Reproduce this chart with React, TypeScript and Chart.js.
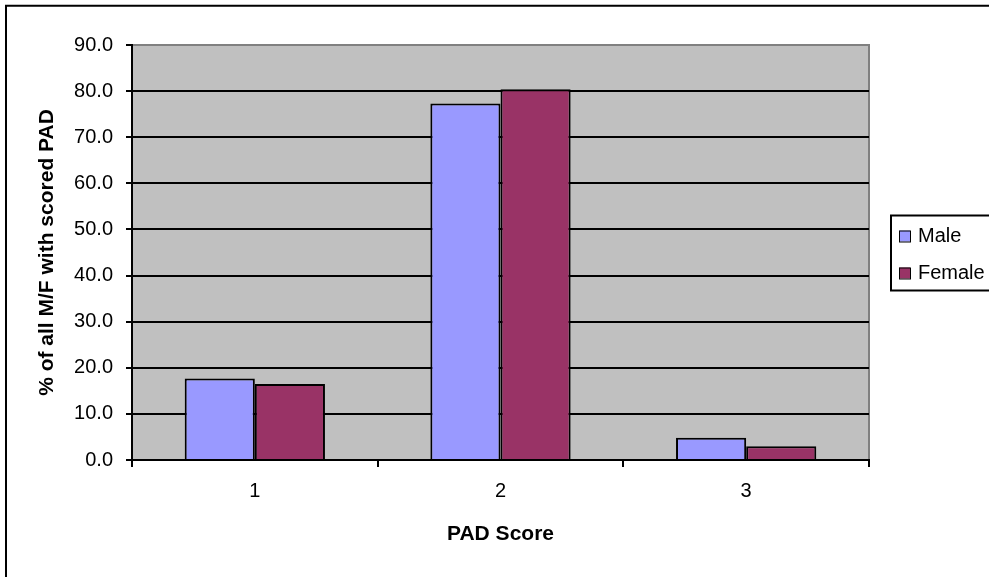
import React, { useEffect, useRef } from "react";
import { Chart, registerables } from "chart.js";

Chart.register(...registerables);

const categories = ["1", "2", "3"];
const seriesNames = ["Male", "Female"];
const maleValues = [17.7, 77.3, 4.8];
const femaleValues = [16.5, 80.4, 3.0];
const seriesColors = ["#9999FF", "#993366"];
const yTitle = "% of all M/F with scored PAD";
const xTitle = "PAD Score";

const FONT = "'Liberation Sans', Arial, sans-serif";

const framePlugin = {
  id: "frame",
  beforeDraw(chart: any) {
    const { ctx, chartArea } = chart;
    ctx.save();
    ctx.fillStyle = "#ffffff";
    ctx.fillRect(0, 0, chart.width, chart.height);
    // outer frame (left and top visible)
    ctx.strokeStyle = "#000";
    ctx.lineWidth = 2;
    ctx.beginPath();
    ctx.moveTo(6, chart.height + 2);
    ctx.lineTo(6, 5.7);
    ctx.lineTo(chart.width + 2, 5.7);
    ctx.stroke();
    // plot area
    ctx.fillStyle = "#C0C0C0";
    ctx.fillRect(chartArea.left, chartArea.top, chartArea.right - chartArea.left, chartArea.bottom - chartArea.top);
    ctx.strokeStyle = "#808080";
    ctx.lineWidth = 2;
    ctx.beginPath();
    ctx.moveTo(chartArea.left, chartArea.top);
    ctx.lineTo(chartArea.right, chartArea.top);
    ctx.lineTo(chartArea.right, chartArea.bottom);
    ctx.stroke();
    ctx.restore();
  },
  afterDraw(chart: any) {
    const { ctx } = chart;
    ctx.save();
    ctx.strokeStyle = "#000";
    ctx.lineWidth = 2;
    ctx.strokeRect(891, 215.5, 120, 75);
    ctx.font = `20px ${FONT}`;
    ctx.textBaseline = "middle";
    ctx.textAlign = "left";
    chart.data.datasets.forEach((ds: any, i: number) => {
      const y = 230.5 + i * 37;
      ctx.fillStyle = ds.backgroundColor;
      ctx.fillRect(899, y, 11, 11);
      ctx.lineWidth = 1;
      ctx.strokeStyle = "#000";
      ctx.strokeRect(899.5, y + 0.5, 11, 11);
      ctx.fillStyle = "#000";
      ctx.fillText(ds.label, 918, y + 6);
    });
    ctx.restore();
  },
};

export default function App() {
  const ref = useRef<HTMLCanvasElement | null>(null);
  useEffect(() => {
    if (!ref.current) return;
    const chart = new Chart(ref.current, {
      type: "bar",
      data: {
        labels: categories,
        datasets: [
          {
            label: seriesNames[0],
            data: maleValues,
            backgroundColor: seriesColors[0],
            borderColor: "#000",
            borderWidth: 2,
          },
          {
            label: seriesNames[1],
            data: femaleValues,
            backgroundColor: seriesColors[1],
            borderColor: "#000",
            borderWidth: 2,
          },
        ],
      },
      options: {
        animation: false,
        responsive: true,
        maintainAspectRatio: false,
        layout: { padding: { top: 45, right: 120, left: 0, bottom: 0 } },
        plugins: {
          legend: { display: false },
          tooltip: { enabled: false },
        },
        datasets: {
          bar: { categoryPercentage: 0.571, barPercentage: 1 },
        },
        scales: {
          x: {
            afterFit: (s: any) => {
              s.height = 117;
            },
            grid: {
              display: true,
              drawOnChartArea: false,
              drawTicks: true,
              tickLength: 7,
              color: "#000",
              lineWidth: 2,
              offset: true,
            },
            border: { display: true, color: "#000", width: 2 },
            ticks: {
              color: "#000",
              font: { family: FONT, size: 20 },
              padding: 12,
            },
            title: {
              display: true,
              text: xTitle,
              color: "#000",
              font: { family: FONT, size: 21, weight: "bold" },
              padding: { top: 0, bottom: 30 },
            },
          },
          y: {
            min: 0,
            max: 90,
            afterFit: (s: any) => {
              s.width = 132;
            },
            grid: {
              color: (c: any) => (c.tick && c.tick.value === 90 ? "#808080" : "#000"),
              tickColor: "#000",
              lineWidth: 2,
              tickLength: 6,
            },
            border: { display: true, color: "#000", width: 2 },
            ticks: {
              stepSize: 10,
              color: "#000",
              font: { family: FONT, size: 20 },
              padding: 13,
              callback: (v: any) => Number(v).toFixed(1),
            },
            title: {
              display: true,
              text: yTitle,
              color: "#000",
              font: { family: FONT, size: 21, weight: "bold" },
              padding: { top: 35, bottom: 0 },
            },
          },
        },
      },
      plugins: [framePlugin],
    });
    return () => chart.destroy();
  }, []);
  return (
    <div style={{ position: "absolute", left: 0, top: 0, width: 989, height: 577 }}>
      <canvas ref={ref} />
    </div>
  );
}
